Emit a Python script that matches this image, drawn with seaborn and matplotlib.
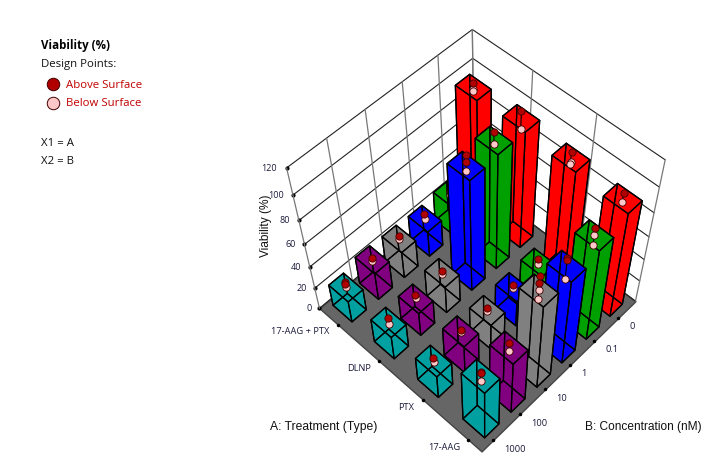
import numpy as np
import matplotlib
matplotlib.use("Agg")
import matplotlib.pyplot as plt
from matplotlib.lines import Line2D
from mpl_toolkits.mplot3d.art3d import Poly3DCollection
import seaborn as sns

sns.set_theme(style="white")
plt.rcParams["font.family"] = ["Open Sans", "DejaVu Sans"]

treatments = ["17-AAG", "PTX", "DLNP", "17-AAG + PTX"]
concentrations = ["1000", "100", "10", "1", "0.1", "0"]
z_ticks = [0, 20, 40, 60, 80, 100, 120]
bar_colors = sns.color_palette(["#00A0A0", "#800080", "#808080", "#0000FF", "#00A000", "#FF0000"])

# bar means, order follows concentrations
mean_17aag = [48, 50, 78, 77, 82, 92]
mean_ptx = [22, 27, 24, 24, 26, 95]
mean_dlnp = [22, 22, 25, 96, 98, 98]
mean_combo = [20, 25, 24, 23, 26, 96]
means = [mean_17aag, mean_ptx, mean_dlnp, mean_combo]

# replicates above the bar top
above_17aag = [[52, 51], [54], [90, 84], [84, 82], [88], [96]]
above_ptx = [[25], [28], [26], [26], [29], [99]]
above_dlnp = [[26], [26], [27], [104, 99], [104], [103]]
above_combo = [[25, 23], [27], [27], [27], [29], [99]]
above = [above_17aag, above_ptx, above_dlnp, above_combo]

# replicates below the bar top
below_17aag = [[43], [47], [78, 71], [66], [82, 74], [89]]
below_ptx = [[21], [26], [23], [23], [24], [92, 90]]
below_dlnp = [[20], [23], [24], [92], [95], [90]]
below_combo = [[20], [24], [24], [23], [26], [95, 93]]
below = [below_17aag, below_ptx, below_dlnp, below_combo]

fig = plt.figure(figsize=(7.15, 4.72), dpi=100)
ax = fig.add_subplot(projection="3d", computed_zorder=False)
ax.set_position([0.246, -0.1466, 0.82, 1.24])
ax.set_box_aspect((1, 1, 1.0), zoom=0.70)
ax.set_proj_type("persp", focal_length=0.35)
ax.view_init(elev=55, azim=-135.8, roll=0.6)
ax.set_xlim(0, 6, view_margin=0)
ax.set_ylim(0, 4, view_margin=0)
ax.set_zlim(0, 120, view_margin=0)
ax.set_axis_off()

# floor
floor = Poly3DCollection([[(0, 0, 0), (6, 0, 0), (6, 4, 0), (0, 4, 0)]],
                         facecolor="#666666", edgecolor="#444444", zorder=1)
ax.add_collection3d(floor)

# walls
for z in z_ticks:
    ax.plot([0, 6, 6], [4, 4, 0], [z, z, z], color="#222222", lw=0.8, zorder=2)
    ax.plot([0], [4], [z], "o", color="black", ms=2, zorder=2)
    ax.text(-0.15, 4.1, z, str(z), ha="right", va="center", fontsize=6.5, color="#1a1a3a")
for x in np.linspace(0, 6, 6):
    ax.plot([x, x], [4, 4], [0, 120], color="#777777", lw=0.9, zorder=2)
for y in np.linspace(0, 4, 4):
    ax.plot([6, 6], [y, y], [0, 120], color="#777777", lw=0.9, zorder=2)

bar_dx = 0.52
bar_dy = 0.50
x_pos = 3 + (np.arange(6) - 2.5) * 0.97
y_pos = 2 + (np.arange(4) - 1.5) * 1.08

# back to front so nearer bars cover the far ones
cells = sorted(((i, j) for i in range(6) for j in range(4)), key=lambda c: -(c[0] + c[1]))
for k, (i, j) in enumerate(cells):
    xc, yc = x_pos[i], y_pos[j]
    h = means[j][i]
    base = 10 + k * 3
    ax.bar3d(xc - bar_dx / 2, yc - bar_dy / 2, 0, bar_dx, bar_dy, h, color=bar_colors[i],
             edgecolor="none", shade=False, zorder=base)
    ax.bar3d(xc - bar_dx / 2, yc - bar_dy / 2, 0, bar_dx, bar_dy, h, color=(0, 0, 0, 0),
             edgecolor="black", linewidth=0.9, shade=False, zorder=base + 1)
    pts = [(v, "#FFC8C8") for v in below[j][i]] + [(v, "#B00000") for v in above[j][i]]
    top = max(v for v, _ in pts)
    low = min(v for v, _ in pts)
    ax.plot([xc, xc], [yc, yc], [low, top], color="black", lw=0.8, zorder=base + 2)
    for v, c in pts:
        ax.plot([xc], [yc], [v], "o", color=c, mec="#400000", mew=0.6, ms=5.2, zorder=base + 2)

# category ticks on the floor edges
for j, name in enumerate(treatments):
    yt = 0.3 + j * 1.07
    ax.plot([0], [yt], [0], "o", color="black", ms=1.5, zorder=5)
    ax.text(-0.3, yt, 0, name, ha="right", va="center", fontsize=6.7, color="#1a1a3a")
for i, name in enumerate(concentrations):
    xt = 0.42 + i * 0.97
    ax.plot([xt], [0], [0], "o", color="black", ms=1.5, zorder=5)
    ax.text(xt, -0.25, 0, name, ha="left", va="center", fontsize=6.7, color="#1a1a3a")

# axis titles
fig.text(270 / 715, 1 - 427 / 472, "A: Treatment (Type)", fontsize=8.7, va="center",
         family="Liberation Sans", color="#111111")
fig.text(585 / 715, 1 - 427 / 472, "B: Concentration (nM)", fontsize=8.6, va="center",
         family="Liberation Sans", color="#111111")
fig.text(266 / 715, 1 - 226 / 472, "Viability (%)", fontsize=8.6, rotation=90, ha="center", va="center",
         family="Liberation Sans", color="#111111")

# legend block
fig.text(41 / 715, 1 - 46 / 472, "Viability (%)", fontsize=8.3, fontweight="bold", va="center", color="black")
fig.text(41 / 715, 1 - 65 / 472, "Design Points:", fontsize=8.2, va="center", color="#111111")
fig.text(66 / 715, 1 - 85 / 472, "Above Surface", fontsize=8.2, va="center", color="#C00000")
fig.text(66 / 715, 1 - 104 / 472, "Below Surface", fontsize=8.2, va="center", color="#C00000")
fig.text(41 / 715, 1 - 143 / 472, "X1 = A", fontsize=8.2, va="center", color="#111111")
fig.text(41 / 715, 1 - 162 / 472, "X2 = B", fontsize=8.2, va="center", color="#111111")
fig.add_artist(Line2D([53 / 715], [1 - 84 / 472], marker="o", ms=9, color="#B00000", mec="#400000",
                      mew=0.7, transform=fig.transFigure))
fig.add_artist(Line2D([53 / 715], [1 - 103 / 472], marker="o", ms=9, color="#FFC8C8", mec="#400000",
                      mew=0.7, transform=fig.transFigure))

fig.savefig("out.png", dpi=100)
